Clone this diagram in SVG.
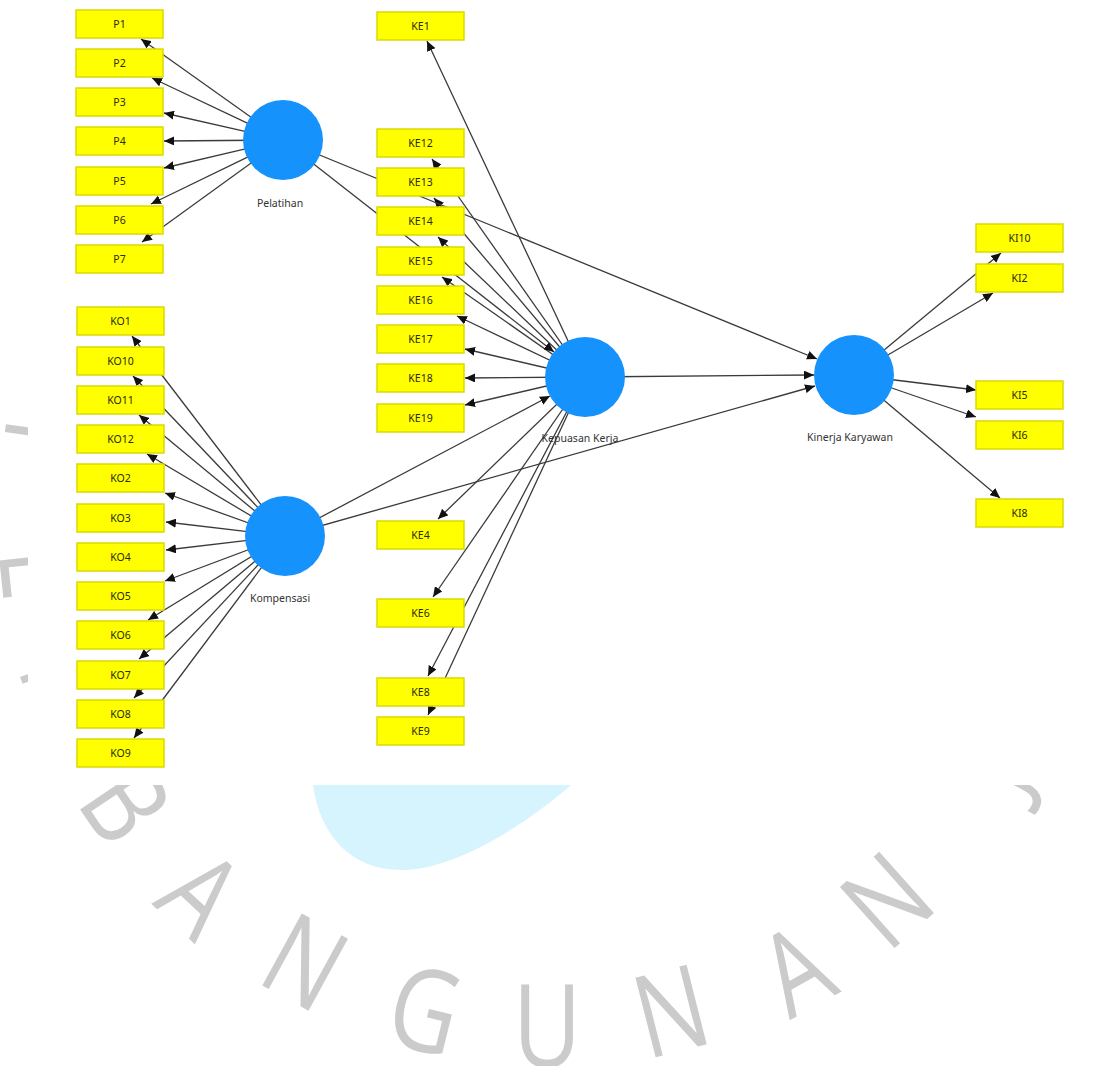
<svg xmlns="http://www.w3.org/2000/svg" width="1096" height="1066" viewBox="0 0 1096 1066">
<defs>
<style>
.wm{font-family:"Open Sans","DejaVu Sans",sans-serif;font-weight:400;font-size:115px;fill:#CBCBCB;text-anchor:middle}
.ln{stroke:#3a3a3a;stroke-width:1.3;fill:none;marker-end:url(#ah)}
.bx rect{fill:#FFFF00;stroke:#DADA00;stroke-width:1.5}
.bx text{font-family:"Noto Sans","DejaVu Sans",sans-serif;font-size:10.5px;fill:#2a2a10;text-anchor:middle}
.lv circle{fill:#1592FC}
.lv text{font-family:"Noto Sans","DejaVu Sans",sans-serif;font-size:10.5px;fill:#333;text-anchor:middle}
</style>
<marker id="ah" markerUnits="userSpaceOnUse" markerWidth="10" markerHeight="9" refX="10" refY="4.5" orient="auto">
<path d="M0,0 L10,4.5 L0,9 Z" fill="#111"/>
</marker>
</defs>
<rect x="0" y="0" width="1096" height="1066" fill="#FFFFFF"/>
<g id="watermark">
<path d="M313,785 C320,835 350,870 402,870 C455,870 525,825 571,785 Z" fill="#D5F4FD"/>
<text class="wm" transform="translate(44,449) rotate(98) scale(0.82,1)" y="41">P</text>
<text class="wm" transform="translate(42,573) rotate(84) scale(0.82,1)" y="41">E</text>
<text class="wm" transform="translate(70,694) rotate(70) scale(0.82,1)" y="41">M</text>
<text class="wm" transform="translate(126,804) rotate(56) scale(0.82,1)" y="41">B</text>
<text class="wm" transform="translate(201,894) rotate(42.8) scale(0.82,1)" y="41">A</text>
<text class="wm" transform="translate(305,962) rotate(28.7) scale(0.82,1)" y="41">N</text>
<text class="wm" transform="translate(425,1010) rotate(14) scale(0.82,1)" y="41">G</text>
<text class="wm" transform="translate(547,1026) rotate(0) scale(0.82,1)" y="41">U</text>
<text class="wm" transform="translate(671,1011) rotate(-14.2) scale(0.82,1)" y="41">N</text>
<text class="wm" transform="translate(796,970) rotate(-29) scale(0.82,1)" y="41">A</text>
<text class="wm" transform="translate(887,900) rotate(-41.8) scale(0.82,1)" y="41">N</text>
<text class="wm" transform="translate(990,768) rotate(-62) scale(0.82,1)" y="41">J</text>
</g>
<rect x="28" y="10" width="1060" height="775" fill="#FFFFFF"/>
<g id="connectors">
<line class="ln" x1="283" y1="140" x2="141" y2="39"/>
<line class="ln" x1="283" y1="140" x2="152" y2="78"/>
<line class="ln" x1="283" y1="140" x2="164" y2="113"/>
<line class="ln" x1="283" y1="140" x2="164" y2="141"/>
<line class="ln" x1="283" y1="140" x2="164" y2="168"/>
<line class="ln" x1="283" y1="140" x2="151" y2="204"/>
<line class="ln" x1="283" y1="140" x2="142" y2="242"/>
<line class="ln" x1="285" y1="536" x2="132" y2="336"/>
<line class="ln" x1="285" y1="536" x2="133" y2="376"/>
<line class="ln" x1="285" y1="536" x2="139" y2="415"/>
<line class="ln" x1="285" y1="536" x2="147" y2="454"/>
<line class="ln" x1="285" y1="536" x2="165" y2="493"/>
<line class="ln" x1="285" y1="536" x2="166" y2="522"/>
<line class="ln" x1="285" y1="536" x2="166" y2="550"/>
<line class="ln" x1="285" y1="536" x2="165" y2="581"/>
<line class="ln" x1="285" y1="536" x2="148" y2="620"/>
<line class="ln" x1="285" y1="536" x2="139" y2="659"/>
<line class="ln" x1="285" y1="536" x2="134" y2="698"/>
<line class="ln" x1="285" y1="536" x2="134" y2="738"/>
<line class="ln" x1="585" y1="377" x2="427" y2="41"/>
<line class="ln" x1="585" y1="377" x2="432" y2="159"/>
<line class="ln" x1="585" y1="377" x2="434" y2="198"/>
<line class="ln" x1="585" y1="377" x2="438" y2="237"/>
<line class="ln" x1="585" y1="377" x2="442" y2="277"/>
<line class="ln" x1="585" y1="377" x2="457" y2="316"/>
<line class="ln" x1="585" y1="377" x2="465" y2="349"/>
<line class="ln" x1="585" y1="377" x2="465" y2="378"/>
<line class="ln" x1="585" y1="377" x2="465" y2="405"/>
<line class="ln" x1="585" y1="377" x2="438" y2="519"/>
<line class="ln" x1="585" y1="377" x2="433" y2="597"/>
<line class="ln" x1="585" y1="377" x2="428" y2="676"/>
<line class="ln" x1="585" y1="377" x2="428" y2="715"/>
<line class="ln" x1="854" y1="375" x2="1001" y2="253"/>
<line class="ln" x1="854" y1="375" x2="993" y2="293"/>
<line class="ln" x1="854" y1="375" x2="976" y2="390"/>
<line class="ln" x1="854" y1="375" x2="976" y2="417"/>
<line class="ln" x1="854" y1="375" x2="1000" y2="498"/>
<line class="ln" x1="283" y1="140" x2="554" y2="352"/>
<line class="ln" x1="283" y1="140" x2="817" y2="359"/>
<line class="ln" x1="285" y1="536" x2="550" y2="396"/>
<line class="ln" x1="285" y1="536" x2="815" y2="386"/>
<line class="ln" x1="585" y1="377" x2="814" y2="375"/>
</g>
<g id="P1" class="bx"><rect x="76" y="10" width="87" height="28"/><text x="119.5" y="28">P1</text></g>
<g id="P2" class="bx"><rect x="76" y="49" width="87" height="28"/><text x="119.5" y="67">P2</text></g>
<g id="P3" class="bx"><rect x="76" y="88" width="87" height="28"/><text x="119.5" y="106">P3</text></g>
<g id="P4" class="bx"><rect x="76" y="127" width="87" height="28"/><text x="119.5" y="145">P4</text></g>
<g id="P5" class="bx"><rect x="76" y="167" width="87" height="28"/><text x="119.5" y="185">P5</text></g>
<g id="P6" class="bx"><rect x="76" y="206" width="87" height="28"/><text x="119.5" y="224">P6</text></g>
<g id="P7" class="bx"><rect x="76" y="245" width="87" height="28"/><text x="119.5" y="263">P7</text></g>
<g id="KO1" class="bx"><rect x="77" y="307" width="87" height="28"/><text x="120.5" y="325">KO1</text></g>
<g id="KO10" class="bx"><rect x="77" y="347" width="87" height="28"/><text x="120.5" y="365">KO10</text></g>
<g id="KO11" class="bx"><rect x="77" y="386" width="87" height="28"/><text x="120.5" y="404">KO11</text></g>
<g id="KO12" class="bx"><rect x="77" y="425" width="87" height="28"/><text x="120.5" y="443">KO12</text></g>
<g id="KO2" class="bx"><rect x="77" y="464" width="87" height="28"/><text x="120.5" y="482">KO2</text></g>
<g id="KO3" class="bx"><rect x="77" y="504" width="87" height="28"/><text x="120.5" y="522">KO3</text></g>
<g id="KO4" class="bx"><rect x="77" y="543" width="87" height="28"/><text x="120.5" y="561">KO4</text></g>
<g id="KO5" class="bx"><rect x="77" y="582" width="87" height="28"/><text x="120.5" y="600">KO5</text></g>
<g id="KO6" class="bx"><rect x="77" y="621" width="87" height="28"/><text x="120.5" y="639">KO6</text></g>
<g id="KO7" class="bx"><rect x="77" y="661" width="87" height="28"/><text x="120.5" y="679">KO7</text></g>
<g id="KO8" class="bx"><rect x="77" y="700" width="87" height="28"/><text x="120.5" y="718">KO8</text></g>
<g id="KO9" class="bx"><rect x="77" y="739" width="87" height="28"/><text x="120.5" y="757">KO9</text></g>
<g id="KE1" class="bx"><rect x="377" y="12" width="87" height="28"/><text x="420.5" y="30">KE1</text></g>
<g id="KE12" class="bx"><rect x="377" y="129" width="87" height="28"/><text x="420.5" y="147">KE12</text></g>
<g id="KE13" class="bx"><rect x="377" y="168" width="87" height="28"/><text x="420.5" y="186">KE13</text></g>
<g id="KE14" class="bx"><rect x="377" y="207" width="87" height="28"/><text x="420.5" y="225">KE14</text></g>
<g id="KE15" class="bx"><rect x="377" y="247" width="87" height="28"/><text x="420.5" y="265">KE15</text></g>
<g id="KE16" class="bx"><rect x="377" y="286" width="87" height="28"/><text x="420.5" y="304">KE16</text></g>
<g id="KE17" class="bx"><rect x="377" y="325" width="87" height="28"/><text x="420.5" y="343">KE17</text></g>
<g id="KE18" class="bx"><rect x="377" y="364" width="87" height="28"/><text x="420.5" y="382">KE18</text></g>
<g id="KE19" class="bx"><rect x="377" y="404" width="87" height="28"/><text x="420.5" y="422">KE19</text></g>
<g id="KE4" class="bx"><rect x="377" y="521" width="87" height="28"/><text x="420.5" y="539">KE4</text></g>
<g id="KE6" class="bx"><rect x="377" y="599" width="87" height="28"/><text x="420.5" y="617">KE6</text></g>
<g id="KE8" class="bx"><rect x="377" y="678" width="87" height="28"/><text x="420.5" y="696">KE8</text></g>
<g id="KE9" class="bx"><rect x="377" y="717" width="87" height="28"/><text x="420.5" y="735">KE9</text></g>
<g id="KI10" class="bx"><rect x="976" y="224" width="87" height="28"/><text x="1019.5" y="242">KI10</text></g>
<g id="KI2" class="bx"><rect x="976" y="264" width="87" height="28"/><text x="1019.5" y="282">KI2</text></g>
<g id="KI5" class="bx"><rect x="976" y="381" width="87" height="28"/><text x="1019.5" y="399">KI5</text></g>
<g id="KI6" class="bx"><rect x="976" y="421" width="87" height="28"/><text x="1019.5" y="439">KI6</text></g>
<g id="KI8" class="bx"><rect x="976" y="499" width="87" height="28"/><text x="1019.5" y="517">KI8</text></g>
<g id="Pelatihan" class="lv"><circle cx="283" cy="140" r="40"/><text x="280" y="207">Pelatihan</text></g>
<g id="Kompensasi" class="lv"><circle cx="285" cy="536" r="40"/><text x="280" y="602">Kompensasi</text></g>
<g id="KepuasanKerja" class="lv"><circle cx="585" cy="377" r="40"/><text x="580" y="442">Kepuasan Kerja</text></g>
<g id="KinerjaKaryawan" class="lv"><circle cx="854" cy="375" r="40"/><text x="850" y="441">Kinerja Karyawan</text></g>
</svg>
